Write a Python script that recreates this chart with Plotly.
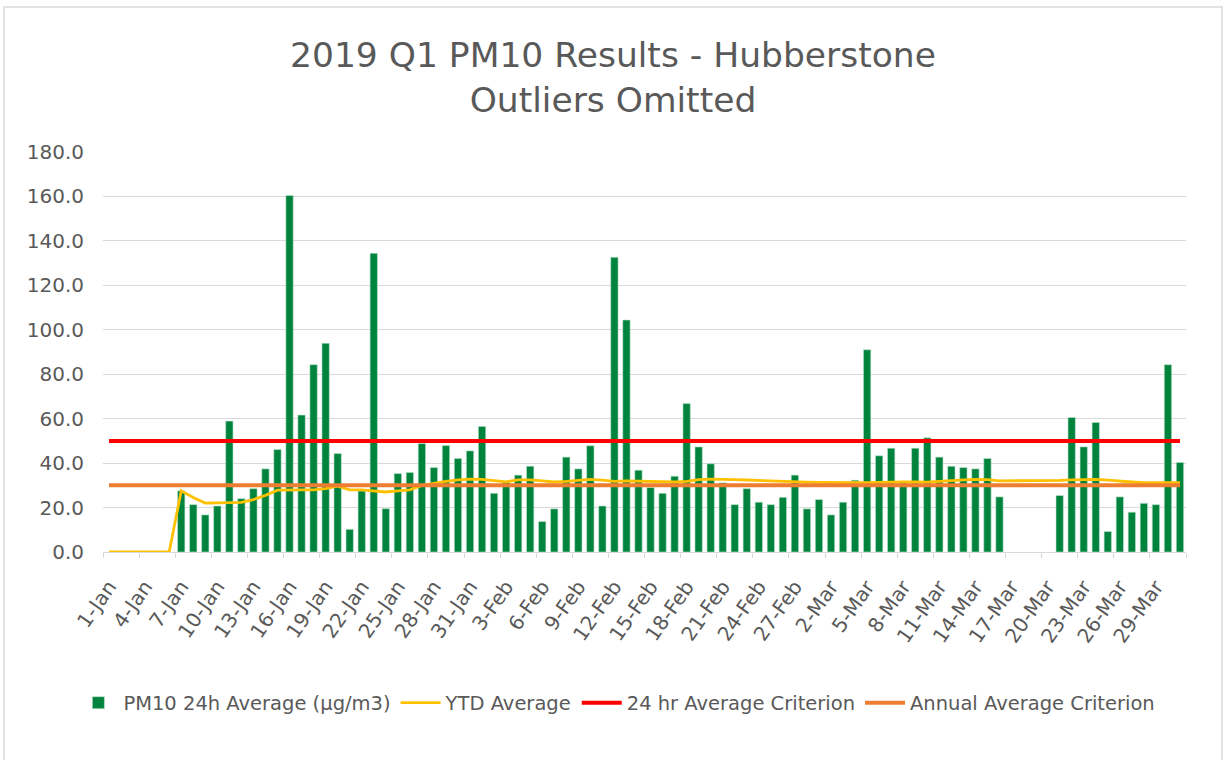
import datetime as dt
import plotly.graph_objects as go

# ---- data ----
start = dt.date(2019, 1, 1)
days = [f"{(start + dt.timedelta(d)).day}-{(start + dt.timedelta(d)).strftime('%b')}" for d in range(90)]

pm10 = [None, None, None, None, None, None,
        27.5, 21.3, 16.7, 20.7, 58.9, 24.0, 28.5, 37.4, 46.1, 160.4,
        61.6, 84.3, 93.9, 44.3, 10.2, 27.5, 134.4, 19.5, 35.3, 35.8,
        48.8, 38.0, 47.9, 42.1, 45.5, 56.5, 26.4, 31.5, 34.6, 38.6,
        13.7, 19.4, 42.7, 37.4, 47.8, 20.7, 132.6, 104.4, 36.8, 29.0,
        26.4, 34.1, 66.8, 47.3, 39.7, 31.1, 21.3, 28.5, 22.4, 21.3,
        24.6, 34.6, 19.4, 23.6, 16.7, 22.4, 32.3, 91.0, 43.3, 46.7,
        31.5, 46.7, 51.4, 42.7, 38.6, 38.0, 37.4, 42.1, 24.8,
        None, None, None, None,
        25.4, 60.5, 47.3, 58.3, 9.2, 24.8, 17.9, 21.9, 21.3, 84.3, 40.3]

ytd = [0, 0, 0, 0, 0, 0,
       27.5, 24.5, 22.0, 22.0, 22.0, 22.3, 23.6, 25.5, 27.8, 28.0,
       28.0, 28.0, 28.5, 29.6, 28.0, 28.0, 27.5, 27.0, 27.5, 28.0,
       30.0, 31.0, 31.8, 32.5, 32.8, 32.7, 32.0, 31.6, 32.5, 32.5,
       32.0, 31.5, 31.8, 32.3, 32.7, 32.3, 31.8, 32.0, 31.8, 31.7,
       31.5, 31.5, 31.8, 32.6, 32.8, 32.8, 32.6, 32.4, 32.2, 31.8,
       31.5, 31.5, 31.4, 31.3, 31.2, 31.2, 31.2, 31.2, 31.3, 31.5,
       31.6, 31.5, 31.4, 31.8, 32.3, 32.5, 32.7, 32.6, 32.0,
       32.0, 32.0, 32.0, 32.0,
       32.2, 32.5, 32.7, 32.7, 32.3, 31.8, 31.5, 31.2, 31.2, 31.2, 31.2]

criterion_24h = 50
criterion_annual = 30

FONT = "DejaVu Sans"
GREY = "#595959"

fig = go.Figure()
fig.add_trace(go.Bar(x=days, y=pm10, name="PM10 24h Average (µg/m3)",
                     marker=dict(color="#00843D", line=dict(color="#BFE3CC", width=0.6))))
fig.add_trace(go.Scatter(x=days, y=ytd, name="YTD Average", mode="lines",
                         line=dict(color="#FFC000", width=2.8)))
fig.add_trace(go.Scatter(x=days, y=[criterion_24h] * len(days), name="24 hr Average Criterion",
                         mode="lines", line=dict(color="#FF0000", width=4)))
fig.add_trace(go.Scatter(x=days, y=[criterion_annual] * len(days), name="Annual Average Criterion",
                         mode="lines", line=dict(color="#ED7D31", width=4)))

fig.update_layout(
    width=1226, height=760,
    margin=dict(l=103, r=40, t=152, b=208, autoexpand=False),
    paper_bgcolor="white", plot_bgcolor="white",
    font=dict(family=FONT, color=GREY, size=18),
    bargap=0.39,
    title=dict(text="2019 Q1 PM10 Results - Hubberstone<br>Outliers Omitted",
               x=0.5, xref="container", xanchor="center",
               y=1 - 67 / 760, yref="container", yanchor="middle",
               font=dict(family=FONT, size=34.5, color=GREY)),
    legend=dict(orientation="h", x=0.4745, xanchor="center", y=-0.3775, yanchor="middle",
                font=dict(size=19.5, color=GREY), itemwidth=40, traceorder="normal"),
    showlegend=True,
)
fig.update_xaxes(type="category", tickmode="linear", tick0=0, dtick=3, tickangle=-55,
                 ticks="outside", tickson="boundaries", ticklen=5, tickcolor="#D9D9D9",
                 showgrid=False, showline=True, linecolor="#D9D9D9", linewidth=1,
                 tickfont=dict(size=20, color=GREY), range=[-0.5, 89.5], automargin=False,
                 ticklabelstandoff=14)
fig.update_yaxes(range=[0, 180], dtick=20, tickformat=".1f", showgrid=True, gridcolor="#D9D9D9",
                 gridwidth=1, zeroline=False, showline=False, ticks="", ticklen=0,
                 tickfont=dict(size=20, color=GREY), automargin=False, ticklabelstandoff=18)

fig.add_shape(type="rect", xref="paper", yref="paper",
              x0=(4 - 103) / 1083, x1=(1222 - 103) / 1083,
              y0=(552 - 765) / 400, y1=(552 - 7) / 400,
              line=dict(color="#D9D9D9", width=1.5), layer="below")

fig.write_html("out.html", config={"displayModeBar": False},
               post_script="document.body.style.margin='0';document.body.style.overflow='hidden';")
